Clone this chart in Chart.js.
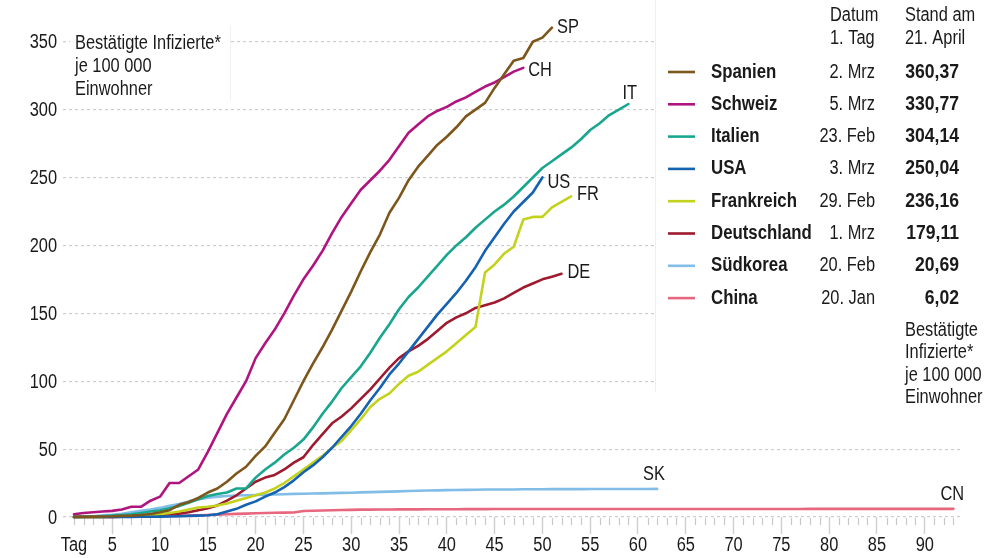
<!DOCTYPE html>
<html><head><meta charset="utf-8">
<script src="https://cdn.jsdelivr.net/npm/chart.js@4.4.0/dist/chart.umd.min.js"></script>
<style>html,body{margin:0;padding:0;background:#fff;overflow:hidden}#wrap{width:994px;height:558px;position:relative}</style>
</head><body><div id="wrap"><canvas id="c"></canvas></div>
<script>
// ---- data ----
const countryNames = ['Spanien','Schweiz','Italien','USA','Frankreich','Deutschland','Südkorea','China'];
const shortLabels  = ['SP','CH','IT','US','FR','DE','SK','CN'];
const firstDays    = ['2. Mrz','5. Mrz','23. Feb','3. Mrz','29. Feb','1. Mrz','20. Feb','20. Jan'];
const latestValues = ['360,37','330,77','304,14','250,04','236,16','179,11','20,69','6,02'];
const xTickValues  = [1,5,10,15,20,25,30,35,40,45,50,55,60,65,70,75,80,85,90];
const yTickValues  = [0,50,100,150,200,250,300,350];

const spanien = [0.1,0.2,0.3,0.4,0.5,0.8,1,1.5,2.2,3.5,5,9,11,14,18,21,26,32,37,
  45,52,62,72,86,100,113,125,138,152,166,181,195,208,224,235,248,258,266,274,280,287,295,300,305,316,326,336,338,350,353,360.37];
const schweiz = [2,3,3.5,4,4.5,5.5,7.5,7.5,12,15,25,25,30,35,48,62,76,88,100,117,128,138,150,163,175,185,196,209,221,231,
  241,248,255,263,273,283,289,295,299,302,306,309,313,317,320,324,328,330.77];
const italien = [0.1,0.2,0.4,0.6,1,1.5,2,3,4,5,6.5,8,10.5,13,15.5,17,18,21,21,
  29,35,40,46,51,57,66,76,85,95,103,111,121,132,142,153,162,169,177,185,193,200,206,213,219,225,230,236,243,250,257,262,267,272,278,285,290,296,300,304.14];
const usa = [0,0,0,0,0.1,0.1,0.1,0.2,0.2,0.3,0.4,0.6,0.8,1,1.3,2,
  4,6,9,11.5,15,18,22,27,33,38,44,51,59,67,76,86,95,105,113,122,131,140,149,157,165,174,184,196,206,216,225,232,239,250.04];
const frankreich = [0,0,0,0.1,0.2,0.3,0.4,0.6,1,2,3,4,5.5,7,7.5,8.5,10,12,14,
  16,18,21,25,30,35,40,45,51,56,64,72,81,87,91,98,104,107,112,117,122,128,134,140,180,186,194,199,219,221,221,228,232,236.16];
const deutschland = [0,0,0,0.1,0.1,0.2,0.3,0.5,1,1.5,2,2.5,3.5,5,6.5,8.5,
  12,16,21,26,29,31,35,40,44,53,61,69,74,80,87,94,102,110,117,122,126,131,137,143,147,150,154,156,158,161,165,169,172,175,177,179.11];
const suedkorea = [0.2,0.4,0.6,1.2,1.7,2.4,3.4,4.5,5.5,6.7,8.2,9.5,11.5,13,14.2,15,15.5,15.8,
  16,16.2,16.4,16.6,16.8,17,17.1,17.3,17.4,17.6,17.8,17.9,18.1,18.3,18.5,18.7,18.9,19.1,19.3,19.5,19.6,19.8,19.9,20,20.1,20.2,
  20.2,20.3,20.3,20.4,20.4,20.4,20.5,20.5,20.5,20.5,20.6,20.6,20.6,20.6,20.6,20.65,20.67,20.69];
const china = [0.02,0.03,0.04,0.06,0.09,0.14,0.2,0.33,0.43,0.56,0.7,0.86,
  1.05,1.25,1.49,1.77,2.04,2.27,2.51,2.71,2.92,3.1,3.25,3.35,
  4.4,4.64,4.84,4.98,5.13,5.27,5.4,5.42,5.49,5.55,5.6,5.61,5.65,5.68,5.71,5.73,5.76,5.8,5.82,5.83,5.84,5.85,5.86,5.86,5.87,5.87,
  5.87,5.87,5.88,5.88,5.88,5.89,5.89,5.89,5.9,5.9,5.9,5.9,5.91,5.91,5.91,5.91,5.92,5.92,5.92,5.92,5.93,5.93,
  5.93,5.93,5.94,5.94,5.94,5.95,5.95,5.95,5.95,5.96,5.96,5.96,5.96,5.97,5.97,5.97,
  6.0,6.01,6.01,6.02,6.02];

const seriesValues = [spanien, schweiz, italien, usa, frankreich, deutschland, suedkorea, china];

// ---- styles ----
const colors = ['#7d561b','#b0147f','#19a68e','#1462b0','#c3d21c','#9e1a2e','#82bde8','#e6677e'];
const labelOffsets = [[5,0],[5,3],[-6,-11],[5,5],[6,-2],[6,-1],[-14,-14],[-13,-14]];
const FONT = '"Liberation Sans", Arial, sans-serif';
const FS = 20;       // font size
const SX = 0.82;     // horizontal condensing
const TXT = '#1a1a1a';

const datasets = seriesValues.map((vals, i) => ({
  label: countryNames[i],
  data: vals.map((v, k) => ({x: k + 1, y: v})),
  borderColor: colors[i],
  backgroundColor: colors[i],
  borderWidth: 2.6,
  pointRadius: 0,
  tension: 0,
  fill: false,
  clip: false,
  borderJoinStyle: 'round',
  borderCapStyle: 'round'
}));

function txt(ctx, s, x, y, align, bold, sx) {
  ctx.save();
  ctx.translate(x, y);
  ctx.scale(sx || SX, 1);
  ctx.font = (bold ? 'bold ' : '') + FS + 'px ' + FONT;
  ctx.fillStyle = TXT;
  ctx.textAlign = align || 'left';
  ctx.textBaseline = 'middle';
  ctx.fillText(s, 0, 0);
  ctx.restore();
}

const decor = {
  id: 'decor',
  beforeDatasetsDraw(chart) {
    const ctx = chart.ctx, xs = chart.scales.x, ys = chart.scales.y, ca = chart.chartArea;
    ctx.save();
    // minor day ticks
    ctx.strokeStyle = '#c8c8c8'; ctx.lineWidth = 1.2;
    for (let d = 1; d <= 93; d++) {
      if (d % 5 === 0) continue;
      const px = Math.round(xs.getPixelForValue(d)) + 0.5;
      ctx.beginPath(); ctx.moveTo(px, ca.bottom + 1); ctx.lineTo(px, ca.bottom + 8); ctx.stroke();
    }
    ctx.restore();
    // axis tick labels (from the library's ticks)
    xs.ticks.forEach(t => txt(ctx, t.value === 1 ? 'Tag' : String(t.value), xs.getPixelForValue(t.value), ca.bottom + 28, 'center'));
    ys.ticks.forEach(t => txt(ctx, String(t.value), ca.left - 6, ys.getPixelForValue(t.value) + 1, 'right'));
    ctx.save();
    // top-left caption box
    ctx.fillStyle = '#fff'; ctx.fillRect(70, 26, 160, 74);
    ctx.strokeStyle = '#f0f0f0'; ctx.lineWidth = 1;
    ctx.beginPath(); ctx.moveTo(230.5, 26); ctx.lineTo(230.5, 100); ctx.stroke();
    // legend box
    ctx.fillStyle = '#fff'; ctx.fillRect(655, 0, 339, 392);
    ctx.beginPath(); ctx.moveTo(655.5, 0); ctx.lineTo(655.5, 392); ctx.stroke();
    ctx.restore();
    ['Bestätigte Infizierte*','je 100 000','Einwohner'].forEach((t, i) => txt(ctx, t, 75, 43 + i * 23));
    txt(ctx, 'Datum', 830, 15); txt(ctx, '1. Tag', 830, 38);
    txt(ctx, 'Stand am', 905, 15); txt(ctx, '21. April', 905, 38);
    countryNames.forEach((n, i) => {
      const y = 72 + i * 32.3;
      ctx.save();
      ctx.strokeStyle = colors[i]; ctx.lineWidth = 2.6;
      ctx.beginPath(); ctx.moveTo(668, y); ctx.lineTo(695, y); ctx.stroke();
      ctx.restore();
      txt(ctx, n, 711, y, 'left', true, 0.84);
      txt(ctx, firstDays[i], 875, y, 'right');
      txt(ctx, latestValues[i], 959, y, 'right', true, 0.88);
    });
    ['Bestätigte','Infizierte*','je 100 000','Einwohner'].forEach((t, i) => txt(ctx, t, 905, 330 + i * 22.6));
  },
  afterDatasetsDraw(chart) {
    const ctx = chart.ctx;
    chart.data.datasets.forEach((ds, i) => {
      const meta = chart.getDatasetMeta(i);
      const pt = meta.data[meta.data.length - 1];
      txt(ctx, shortLabels[i], pt.x + labelOffsets[i][0], pt.y + labelOffsets[i][1]);
    });
  }
};

new Chart(document.getElementById('c'), {
  type: 'line',
  data: { datasets },
  options: {
    responsive: true,
    maintainAspectRatio: false,
    animation: false,
    layout: { padding: { top: 20, right: 31, left: 0, bottom: 0 } },
    plugins: { legend: { display: false }, tooltip: { enabled: false }, title: { display: false } },
    scales: {
      x: {
        type: 'linear', min: -0.15, max: 94,
        afterFit: s => { s.height = 41; },
        afterBuildTicks: s => { s.ticks = xTickValues.map(v => ({ value: v })); },
        ticks: { display: false, autoSkip: false, maxRotation: 0 },
        grid: { drawOnChartArea: false, drawTicks: true, tickLength: 17, tickWidth: 1.5,
          tickColor: c => (c.tick && c.tick.value === 1) ? 'rgba(0,0,0,0)' : '#d0d0d0' },
        border: { display: false }
      },
      y: {
        min: 0, max: 366,
        afterFit: s => { s.width = 63; },
        afterBuildTicks: s => { s.ticks = yTickValues.map(v => ({ value: v })); },
        ticks: { display: false },
        grid: { color: '#cdcdcd', lineWidth: 1.2, drawTicks: false },
        border: { display: false, dash: [3, 3] }
      }
    }
  },
  plugins: [decor]
});
</script></body></html>
